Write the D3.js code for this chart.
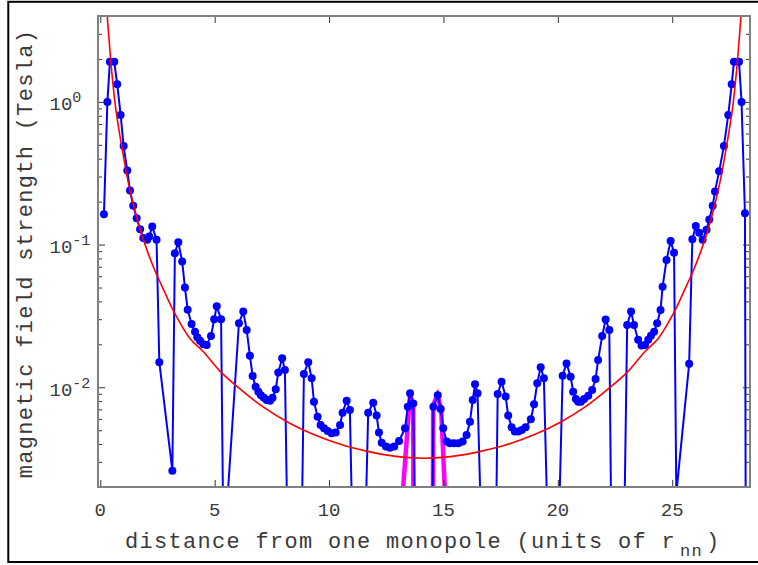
<!DOCTYPE html>
<html>
<head>
<meta charset="utf-8">
<script src="https://cdn.jsdelivr.net/npm/d3@7"></script>
<style>
  html, body { margin: 0; padding: 0; background: #fff; }
  svg { display: block; }
</style>
</head>
<body>
<svg id="chart" width="758" height="565"></svg>
<script>
// Field strength sampled along the line joining the two monopoles
const distance = [
  0.16, 0.31, 0.42, 0.61, 0.74, 0.89, 1.02, 1.18, 1.30, 1.44, 1.59, 1.74, 1.88, 2.05, 2.14, 2.27, 2.46, 2.58, 3.15,
  3.26, 3.41, 3.58, 3.70, 3.82, 3.99, 4.14, 4.24, 4.36, 4.50, 4.65, 4.84, 4.98, 5.09, 5.28, 5.39,
  6.06, 6.25, 6.40, 6.54, 6.66, 6.79, 6.91, 7.02, 7.15, 7.27, 7.42, 7.53, 7.67, 7.78, 7.95, 8.07, 8.51,
  8.90, 9.09, 9.24, 9.34, 9.50, 9.63, 9.78, 9.94, 10.11, 10.29, 10.48, 10.59, 10.77, 10.91, 11.28,
  11.71, 11.93, 12.08, 12.18, 12.30, 12.49, 12.66, 12.85, 13.06, 13.32, 13.44, 13.54, 13.68, 13.80,
  14.48, 14.56, 14.75, 14.88, 14.99, 15.14, 15.28, 15.46, 15.65, 15.84, 16.01, 16.16, 16.28, 16.38, 16.49, 17.10,
  17.37, 17.54, 17.72, 17.83, 17.98, 18.12, 18.27, 18.42, 18.59, 18.82, 18.96, 19.10, 19.25, 19.39, 19.80,
  20.21, 20.38, 20.56, 20.67, 20.79, 20.89, 21.01, 21.15, 21.33, 21.50, 21.65, 21.76, 21.94, 22.09, 22.25, 22.57,
  23.03, 23.20, 23.33, 23.51, 23.66, 23.81, 23.95, 24.07, 24.21, 24.34, 24.49, 24.58, 24.75, 24.93, 25.08, 25.18,
  25.74, 25.88, 26.03, 26.18, 26.33, 26.50, 26.62, 26.77, 26.87, 27.05, 27.26, 27.45, 27.60, 27.70, 27.92, 28.03, 28.18, 28.26
];
const field = [
  0.163, 1.00, 1.91, 1.91, 1.33, 0.81, 0.49, 0.33, 0.239, 0.187, 0.153, 0.128, 0.111, 0.108, 0.114, 0.134, 0.108, 0.015, 0.0026,
  0.087, 0.104, 0.076, 0.050, 0.035, 0.0278, 0.0245, 0.0224, 0.0212, 0.0200, 0.0198, 0.0229, 0.030, 0.037, 0.030, 0.00063,
  0.0281, 0.0339, 0.0252, 0.0166, 0.0120, 0.0101, 0.0093, 0.0088, 0.00845, 0.00815, 0.00805, 0.00845, 0.0097, 0.0127, 0.0160, 0.0132, 4e-7,
  0.0124, 0.0150, 0.01156, 0.00792, 0.00622, 0.00544, 0.00516, 0.00494, 0.00476, 0.00481, 0.00544, 0.00664, 0.00805, 0.00693, 9e-6,
  0.00664, 0.0078, 0.00633, 0.00481, 0.00409, 0.00384, 0.00377, 0.00384, 0.0042, 0.00516, 0.0073, 0.00908, 0.0077, 3e-4,
  3e-4, 0.0073, 0.0088, 0.00705, 0.00516, 0.00416, 0.00405, 0.00405, 0.00405, 0.00416, 0.00463, 0.00574, 0.00815, 0.0105, 0.00908, 2e-6,
  0.00898, 0.01094, 0.0086, 0.00633, 0.00525, 0.00489, 0.00489, 0.00502, 0.00525, 0.00597, 0.0076, 0.01067, 0.0138, 0.01156, 2.9e-5,
  0.01206, 0.0147, 0.01187, 0.0093, 0.00828, 0.00792, 0.00792, 0.00828, 0.00873, 0.00957, 0.01143, 0.0155, 0.0229, 0.0299, 0.0252, 2e-7,
  0.0273, 0.0339, 0.0273, 0.0215, 0.0196, 0.0198, 0.0215, 0.0230, 0.0245, 0.0281, 0.0348, 0.0507, 0.078, 0.106, 0.0877, 0.0018,
  0.0146, 0.109, 0.135, 0.121, 0.108, 0.127, 0.150, 0.187, 0.236, 0.326, 0.49, 0.81, 1.33, 1.91, 1.91, 1.00, 0.166, 1e-6
];

// Two-monopole continuum field for comparison
const theoryDistance = [
  0.25, 0.307, 0.40, 0.50, 0.65, 0.80, 1.00, 1.20, 1.50, 1.80, 2.10, 2.40, 2.80, 3.25, 3.92, 4.50, 5.25, 6.10, 7.10, 8.20, 9.30, 10.70, 12.00, 13.20,
  14.155,
  15.11, 16.31, 17.61, 19.01, 20.11, 21.21, 22.21, 23.06, 23.81, 24.39, 25.06, 25.51, 25.91, 26.21, 26.51, 26.81, 27.11, 27.31, 27.51, 27.66, 27.81, 27.91, 28.003, 28.06
];
const theoryField = [
  6.03, 3.96, 2.54, 1.64, 0.966, 0.661, 0.427, 0.285, 0.176, 0.119, 0.0861, 0.0650, 0.0470, 0.0331, 0.0220, 0.0178, 0.01288, 0.00977, 0.00731, 0.00569, 0.00468, 0.00389, 0.00347, 0.00324,
  0.00318,
  0.00324, 0.00347, 0.00389, 0.00468, 0.00569, 0.00731, 0.00977, 0.01288, 0.0178, 0.0220, 0.0331, 0.0470, 0.0650, 0.0861, 0.119, 0.176, 0.285, 0.427, 0.661, 0.966, 1.64, 2.54, 3.96, 6.03
];

// Highlighted central sites (null separates the two spans)
const highlightDistance = [13.10, 13.54, 13.68, 13.72, null, 14.50, 14.55, 14.74, 14.90, 15.12];
const highlightField    = [0.001, 0.0088, 0.0077, 1e-7, null, 1e-7, 0.0075, 0.0088, 0.0070, 0.0012];

const xTickValues = [0, 5, 10, 15, 20, 25];
const yTickExponents = [0, -1, -2];

const plot = { left: 98, top: 16, right: 750, bottom: 487 };
const monoFont = "'Courier New', Courier, 'Nimbus Mono PS', 'Nimbus Mono L', FreeMono, 'Liberation Mono', monospace";
const textColor = "#3a3a3a";

const svg = d3.select("#chart");

const x = d3.scaleLinear().domain([-0.1, 28.4]).range([plot.left, plot.right]);
const y = d3.scaleLog().domain([0.002, 4]).range([plot.bottom, plot.top]);

// Figure frame
svg.append("rect")
  .attr("x", 8.3).attr("y", 1.8)
  .attr("width", 800).attr("height", 560.2)
  .attr("fill", "none").attr("stroke", "#000").attr("stroke-width", 2);

svg.append("defs").append("clipPath").attr("id", "plot-clip")
  .append("rect")
  .attr("x", plot.left).attr("y", plot.top)
  .attr("width", plot.right - plot.left).attr("height", plot.bottom - plot.top);

const series = svg.append("g").attr("clip-path", "url(#plot-clip)");

// Highlighted spans
const highlight = highlightDistance.map((d, i) => ({ d, b: highlightField[i] }));
series.append("path")
  .datum(highlight)
  .attr("fill", "none")
  .attr("stroke", "#ff00ff")
  .attr("stroke-width", 4.5)
  .attr("d", d3.line().defined(p => p.d != null).x(p => x(p.d)).y(p => y(p.b)));

// Sampled field: line and markers
const samples = distance.map((d, i) => ({ d, b: field[i] }));
series.append("path")
  .datum(samples)
  .attr("fill", "none")
  .attr("stroke", "#0000ff")
  .attr("stroke-width", 2)
  .attr("stroke-linejoin", "round")
  .attr("d", d3.line().x(p => x(p.d)).y(p => y(p.b)));

series.append("g").selectAll("circle")
  .data(samples)
  .join("circle")
  .attr("cx", p => x(p.d))
  .attr("cy", p => y(p.b))
  .attr("r", 4)
  .attr("fill", "#0000ff");

// Continuum curve
const theory = theoryDistance.map((d, i) => ({ d, b: theoryField[i] }));
series.append("path")
  .datum(theory)
  .attr("fill", "none")
  .attr("stroke", "#ff0000")
  .attr("stroke-width", 1.6)
  .attr("d", d3.line().curve(d3.curveCatmullRom.alpha(0.5)).x(p => x(p.d)).y(p => y(p.b)));

// Axes: ticks point inward on all four sides
const majorY = yTickExponents.map(e => Math.pow(10, e));
const minorY = y.ticks().filter(v => !majorY.some(m => Math.abs(v / m - 1) < 1e-9));

function tidy(g) {
  g.select(".domain").remove();
  g.selectAll(".tick line").attr("stroke", "#333").attr("stroke-width", 1);
}

svg.append("g").attr("transform", `translate(0,${plot.bottom})`)
  .call(d3.axisBottom(x).tickValues(xTickValues).tickSize(-7).tickFormat(""))
  .call(tidy);
svg.append("g").attr("transform", `translate(0,${plot.top})`)
  .call(d3.axisTop(x).tickValues(xTickValues).tickSize(-7).tickFormat(""))
  .call(tidy);
svg.append("g").attr("transform", `translate(${plot.left},0)`)
  .call(d3.axisLeft(y).tickValues(majorY).tickSize(-7).tickFormat(""))
  .call(tidy);
svg.append("g").attr("transform", `translate(${plot.left},0)`)
  .call(d3.axisLeft(y).tickValues(minorY).tickSize(-4).tickFormat(""))
  .call(tidy);
svg.append("g").attr("transform", `translate(${plot.right},0)`)
  .call(d3.axisRight(y).tickValues(majorY).tickSize(-7).tickFormat(""))
  .call(tidy);
svg.append("g").attr("transform", `translate(${plot.right},0)`)
  .call(d3.axisRight(y).tickValues(minorY).tickSize(-4).tickFormat(""))
  .call(tidy);

// Axes box
svg.append("rect")
  .attr("x", plot.left).attr("y", plot.top)
  .attr("width", plot.right - plot.left).attr("height", plot.bottom - plot.top)
  .attr("fill", "none").attr("stroke", "#808080").attr("stroke-width", 2);

// X tick labels
svg.append("g").selectAll("text")
  .data(xTickValues)
  .join("text")
  .attr("x", v => x(v))
  .attr("y", 516)
  .attr("text-anchor", "middle")
  .attr("font-family", monoFont)
  .attr("font-size", 19)
  .attr("fill", textColor)
  .text(v => v);

// Y tick labels as powers of ten
const yLab = svg.append("g").selectAll("text")
  .data(yTickExponents)
  .join("text")
  .attr("x", 49.5)
  .attr("y", e => y(Math.pow(10, e)) + 8.5)
  .attr("font-family", monoFont)
  .attr("font-size", 19)
  .attr("fill", textColor);
yLab.append("tspan").text("10");
yLab.append("tspan")
  .attr("font-size", 15)
  .attr("dy", -8)
  .text(e => (e < 0 ? "-" : "") + Math.abs(e));

// Axis titles
const xTitle = svg.append("text")
  .attr("x", 125)
  .attr("y", 548)
  .attr("font-family", monoFont)
  .attr("font-size", 22)
  .attr("letter-spacing", 1.3)
  .attr("fill", textColor);
xTitle.append("tspan").text("distance from one monopole (units of r");
xTitle.append("tspan").attr("font-size", 17).attr("dy", 8).attr("dx", 4).text("nn");
xTitle.append("tspan").attr("dy", -8).attr("dx", 3).text(")");

svg.append("text")
  .attr("transform", `translate(32,${(plot.top + plot.bottom) / 2 + 2}) rotate(-90)`)
  .attr("text-anchor", "middle")
  .attr("font-family", monoFont)
  .attr("font-size", 22)
  .attr("letter-spacing", 1.3)
  .attr("fill", textColor)
  .text("magnetic field strength (Tesla)");
</script>
</body>
</html>
